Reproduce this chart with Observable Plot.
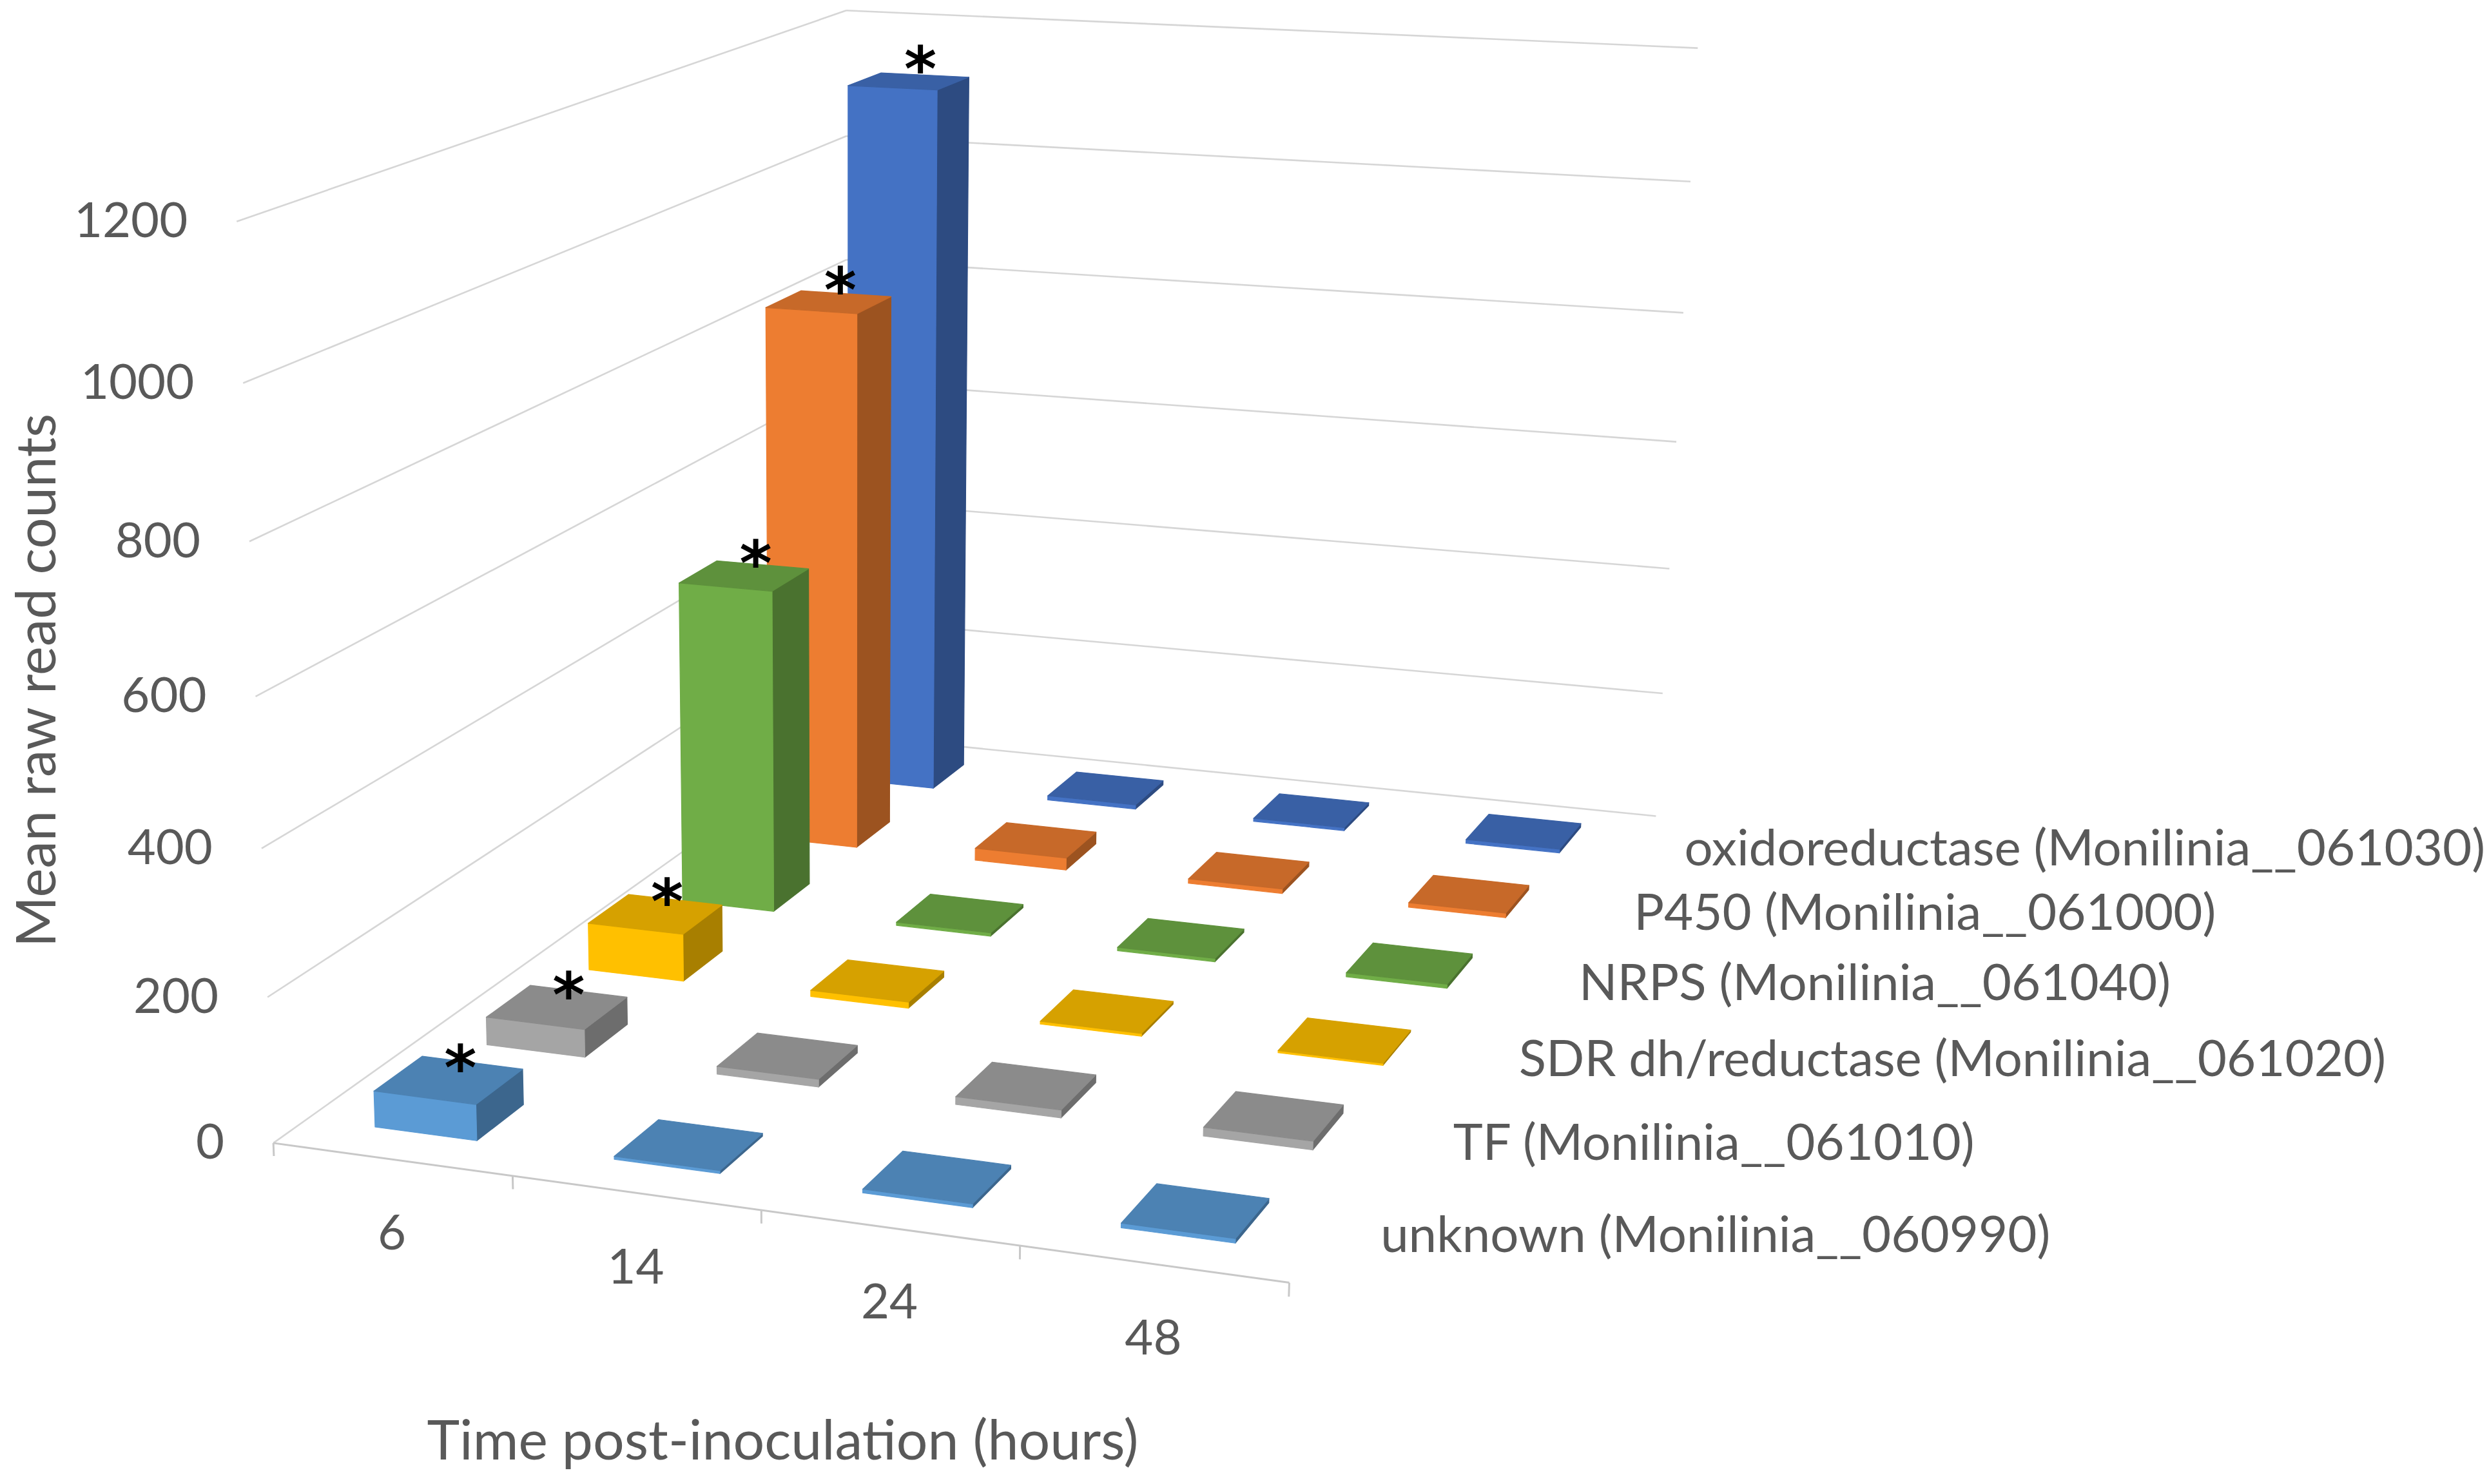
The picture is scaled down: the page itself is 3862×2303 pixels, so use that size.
<!DOCTYPE html>
<html>
<head>
<meta charset="utf-8">
<script src="https://cdn.jsdelivr.net/npm/d3@7"></script>
<script src="https://cdn.jsdelivr.net/npm/@observablehq/plot@0.6"></script>
<style>
  html, body { margin: 0; padding: 0; background: #ffffff; }
  #chart svg { display: block; }
</style>
</head>
<body>
<div id="chart"></div>
<script>
// ---------------- data ----------------
const times = ["6", "14", "24", "48"];
const series = [
  "unknown (Monilinia__060990)",
  "TF (Monilinia__061010)",
  "SDR dh/reductase (Monilinia__061020)",
  "NRPS (Monilinia__061040)",
  "P450 (Monilinia__061000)",
  "oxidoreductase (Monilinia__061030)"
];
const unknownCounts = [50, 4, 5, 6];
const tfCounts      = [40, 11, 11, 12];
const sdrCounts     = [70, 9, 4, 3];
const nrpsCounts    = [489, 5, 5, 6];
const p450Counts    = [834, 19, 7, 7];
const oxidoCounts   = [1119, 7, 5, 6];
const significantAt = ["6", "6", "6", "6", "6", "6"];
const yTicks = [0, 200, 400, 600, 800, 1000, 1200];
const seriesColors = ["#5B9BD5", "#A5A5A5", "#FFC000", "#70AD47", "#ED7D31", "#4472C4"];
const yTitle = "Mean raw read counts";
const xTitle = "Time post-inoculation (hours)";

const counts = [unknownCounts, tfCounts, sdrCounts, nrpsCounts, p450Counts, oxidoCounts];

// ---------------- 3-D perspective "scale" ----------------
const W = 3862, H = 2303, S = W / 1568;
const cam = {
  ax: 578.54, bx: 515.13, cx: -32, x0: 172,
  ay: 26.84, by: -123.11, cy: -589, y0: 720,
  g: -0.07569, h: 0.28918, r: -0.0598,
  vMax: 1200
};
// u: position along time axis (0..1), w: depth (0 front .. 1 back), v: value
function project(u, w, v) {
  const vp = v / cam.vMax;
  const D = cam.g * u + cam.h * w + cam.r * vp + 1;
  const X = (cam.ax * u + cam.bx * w + cam.cx * vp + cam.x0) / D;
  const Y = (cam.ay * u + cam.by * w + cam.cy * vp + cam.y0) / D;
  return [X * S, Y * S];
}
const nT = times.length, nS = series.length;
const barW = 0.43, barD = 0.42;

function shade(c, f) {
  const q = d3.rgb(c);
  return d3.rgb(q.r * f, q.g * f, q.b * f).formatHex();
}

// faces of the 3-D columns, back rows first
const facePts = [];
let fid = 0;
for (let j = nS - 1; j >= 0; j--) {
  for (let i = 0; i < nT; i++) {
    const v = counts[j][i];
    const u0 = (i + (1 - barW) / 2) / nT, u1 = (i + (1 + barW) / 2) / nT;
    const w0 = (j + (1 - barD) / 2) / nS, w1 = (j + (1 + barD) / 2) / nS;
    const base = seriesColors[j];
    const faces = [
      {fill: shade(base, 0.66), pts: [[u1, w0, 0], [u1, w1, 0], [u1, w1, v], [u1, w0, v]]},
      {fill: base,              pts: [[u0, w0, 0], [u1, w0, 0], [u1, w0, v], [u0, w0, v]]},
      {fill: shade(base, 0.84), pts: [[u0, w0, v], [u1, w0, v], [u1, w1, v], [u0, w1, v]]}
    ];
    for (const f of faces) {
      fid++;
      for (const p of f.pts) {
        const [x, y] = project(...p);
        facePts.push({id: fid, x, y, fill: f.fill, series: series[j], time: times[i], value: v});
      }
    }
  }
}

// gridlines: left wall and back wall
const grid = [];
for (const t of yTicks) {
  const a = project(0, 0, t), b = project(0, 1, t), c = project(1, 1, t);
  grid.push({x1: a[0], y1: a[1], x2: b[0], y2: b[1]});
  grid.push({x1: b[0], y1: b[1], x2: c[0], y2: c[1]});
}
// front (category) axis line and ticks
const fa = project(0, 0, 0), fb = project(1, 0, 0);
const axisLine = [{x1: fa[0], y1: fa[1], x2: fb[0], y2: fb[1]}];
const tickLines = d3.range(nT + 1).map(i => {
  const p = project(i / nT, 0, 0), q = project(i / nT, 0, -18);
  return {x1: p[0], y1: p[1], x2: q[0], y2: q[1]};
});

const yLabels = yTicks.map(t => { const [x, y] = project(0, 0, t); return {x, y, text: String(t)}; });
const xLabels = times.map((t, i) => { const [x, y] = project((i + 0.5) / nT, 0, 0); return {x, y, text: t}; });
const sLabels = series.map((s, j) => { const [x, y] = project(1, (j + 0.5) / nS, 0); return {x, y, text: s}; });
const stars = [];
series.forEach((s, j) => {
  const i = times.indexOf(significantAt[j]);
  if (i < 0) return;
  const [x, y] = project((i + 0.5) / nT, (j + 0.5) / nS, counts[j][i]);
  stars.push({x, y, text: "*"});
});

const font = "Lato, 'Open Sans', 'DejaVu Sans', sans-serif";
const textColor = "#595959";

const chart = Plot.plot({
  width: W,
  height: H,
  margin: 0,
  style: {fontFamily: font, background: "#ffffff", overflow: "visible"},
  x: {type: "linear", domain: [0, W], range: [0, W], axis: null},
  y: {type: "linear", domain: [0, H], range: [0, H], axis: null},
  color: {type: "identity"},
  marks: [
    Plot.link(grid, {x1: "x1", y1: "y1", x2: "x2", y2: "y2", stroke: "#d6d6d6", strokeWidth: 2.6}),
    Plot.link(axisLine, {x1: "x1", y1: "y1", x2: "x2", y2: "y2", stroke: "#c8c8c8", strokeWidth: 3}),
    Plot.link(tickLines, {x1: "x1", y1: "y1", x2: "x2", y2: "y2", stroke: "#c8c8c8", strokeWidth: 3}),
    Plot.line(facePts, {x: "x", y: "y", z: "id", fill: "fill", stroke: "fill", strokeWidth: 1.2, curve: "linear-closed"}),
    Plot.text(stars, {x: "x", y: "y", text: "text", dx: 18, dy: -16, fontSize: 96, fontWeight: "bold", fill: "#000000", fontFamily: "'DejaVu Sans', sans-serif"}),
    Plot.text(yLabels, {x: "x", y: "y", text: "text", dx: -76, textAnchor: "end", fontSize: 76, fill: textColor}),
    Plot.text(xLabels, {x: "x", y: "y", text: "text", dy: 116, fontSize: 76, fill: textColor}),
    Plot.text(sLabels, {x: "x", y: "y", text: "text", dx: 81, dy: 5, textAnchor: "start", fontSize: 78, fill: textColor}),
    Plot.text([yTitle], {frameAnchor: "left", text: d => d, rotate: -90, textAnchor: "middle", lineAnchor: "middle", dx: 58, dy: -96, fontSize: 85, fill: textColor}),
    Plot.text([xTitle], {frameAnchor: "bottom", text: d => d, textAnchor: "middle", lineAnchor: "middle", dx: -717, dy: -66, fontSize: 86, fill: textColor})
  ]
});
document.getElementById("chart").appendChild(chart);
</script>
</body>
</html>
